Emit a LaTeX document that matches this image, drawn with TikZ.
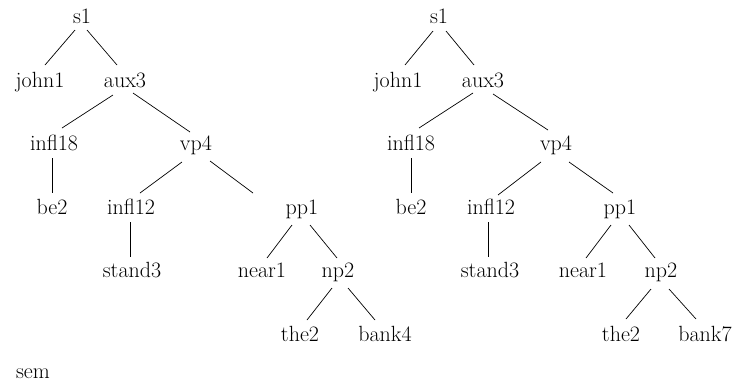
\documentclass[tikz,border=0pt]{standalone}
\usetikzlibrary{calc}
\begin{document}
\begin{tikzpicture}[x=1bp,y=-1bp,
  lbl/.style={anchor=base,inner sep=0pt,font=\fontsize{22bp}{26bp}\selectfont},
  link/.style={line width=0.7bp}]
\useasboundingbox (0,0) rectangle (736,383);
\newcommand\link[6]{\draw[link] ($(#1.base)+(#2,#3)$) -- ($(#4.base)+(#5,#6)$);}
% left tree
\node[lbl] (Ls1) at (82,23.5) {s1};
\node[lbl] (Ljohn1) at (40,87) {john1};
\node[lbl] (Laux3) at (125,87) {aux3};
\node[lbl] (Linfl18) at (54,150.5) {infl18};
\node[lbl] (Lvp4) at (196,150.5) {vp4};
\node[lbl] (Lbe2) at (52,214) {be2};
\node[lbl] (Linfl12) at (131,214) {infl12};
\node[lbl] (Lpp1) at (302,214) {pp1};
\node[lbl] (Lstand3) at (132,277.5) {stand3};
\node[lbl] (Lnear1) at (262,277.5) {near1};
\node[lbl] (Lnp2) at (338,277.5) {np2};
\node[lbl] (Lthe2) at (300,341) {the2};
\node[lbl] (Lbank4) at (385,341) {bank4};
\node[lbl] (sem) at (33,378.5) {sem};
\link{Ls1}{-7}{6.5}{Ljohn1}{5}{-22}
\link{Ls1}{5}{6.5}{Laux3}{-8}{-22}
\link{Laux3}{-12}{8}{Linfl18}{8}{-22.5}
\link{Laux3}{8}{6}{Lvp4}{-6}{-18.5}
\link{Linfl18}{-2}{7.5}{Lbe2}{0}{-21}
\link{Lvp4}{-14}{11.5}{Linfl12}{9}{-21}
\link{Lvp4}{14}{10.5}{Lpp1}{-49}{-21}
\link{Linfl12}{-1}{8}{Lstand3}{-2}{-20.5}
\link{Lpp1}{-10}{11}{Lnear1}{5}{-19.5}
\link{Lpp1}{8}{11}{Lnp2}{-1}{-19.5}
\link{Lnp2}{-6}{10.5}{Lthe2}{7}{-21}
\link{Lnp2}{10}{10.5}{Lbank4}{-10}{-21}
% right tree
\node[lbl] (Rs1) at (439,23.5) {s1};
\node[lbl] (Rjohn1) at (398,87) {john1};
\node[lbl] (Raux3) at (483,87) {aux3};
\node[lbl] (Rinfl18) at (411,150.5) {infl18};
\node[lbl] (Rvp4) at (556,150.5) {vp4};
\node[lbl] (Rbe2) at (411,214) {be2};
\node[lbl] (Rinfl12) at (491,214) {infl12};
\node[lbl] (Rpp1) at (620,214) {pp1};
\node[lbl] (Rstand3) at (490,277.5) {stand3};
\node[lbl] (Rnear1) at (583,277.5) {near1};
\node[lbl] (Rnp2) at (661,277.5) {np2};
\node[lbl] (Rthe2) at (621,341) {the2};
\node[lbl] (Rbank7) at (705,341) {bank7};
\link{Rs1}{-6}{7.5}{Rjohn1}{7}{-22}
\link{Rs1}{7}{7.5}{Raux3}{-9}{-22}
\link{Raux3}{-10}{6}{Rinfl18}{8}{-22.5}
\link{Raux3}{10}{7}{Rvp4}{-8}{-20.5}
\link{Rinfl18}{0}{7.5}{Rbe2}{0}{-21}
\link{Rvp4}{-15}{11.5}{Rinfl12}{7}{-19}
\link{Rvp4}{13}{11.5}{Rpp1}{-7}{-21}
\link{Rinfl12}{-3}{8}{Rstand3}{-2}{-20.5}
\link{Rpp1}{-9}{11}{Rnear1}{3}{-19.5}
\link{Rpp1}{9}{11}{Rnp2}{-6}{-19.5}
\link{Rnp2}{-10}{11.5}{Rthe2}{5}{-22}
\link{Rnp2}{8}{11.5}{Rbank7}{-9}{-22}
\end{tikzpicture}
\end{document}
